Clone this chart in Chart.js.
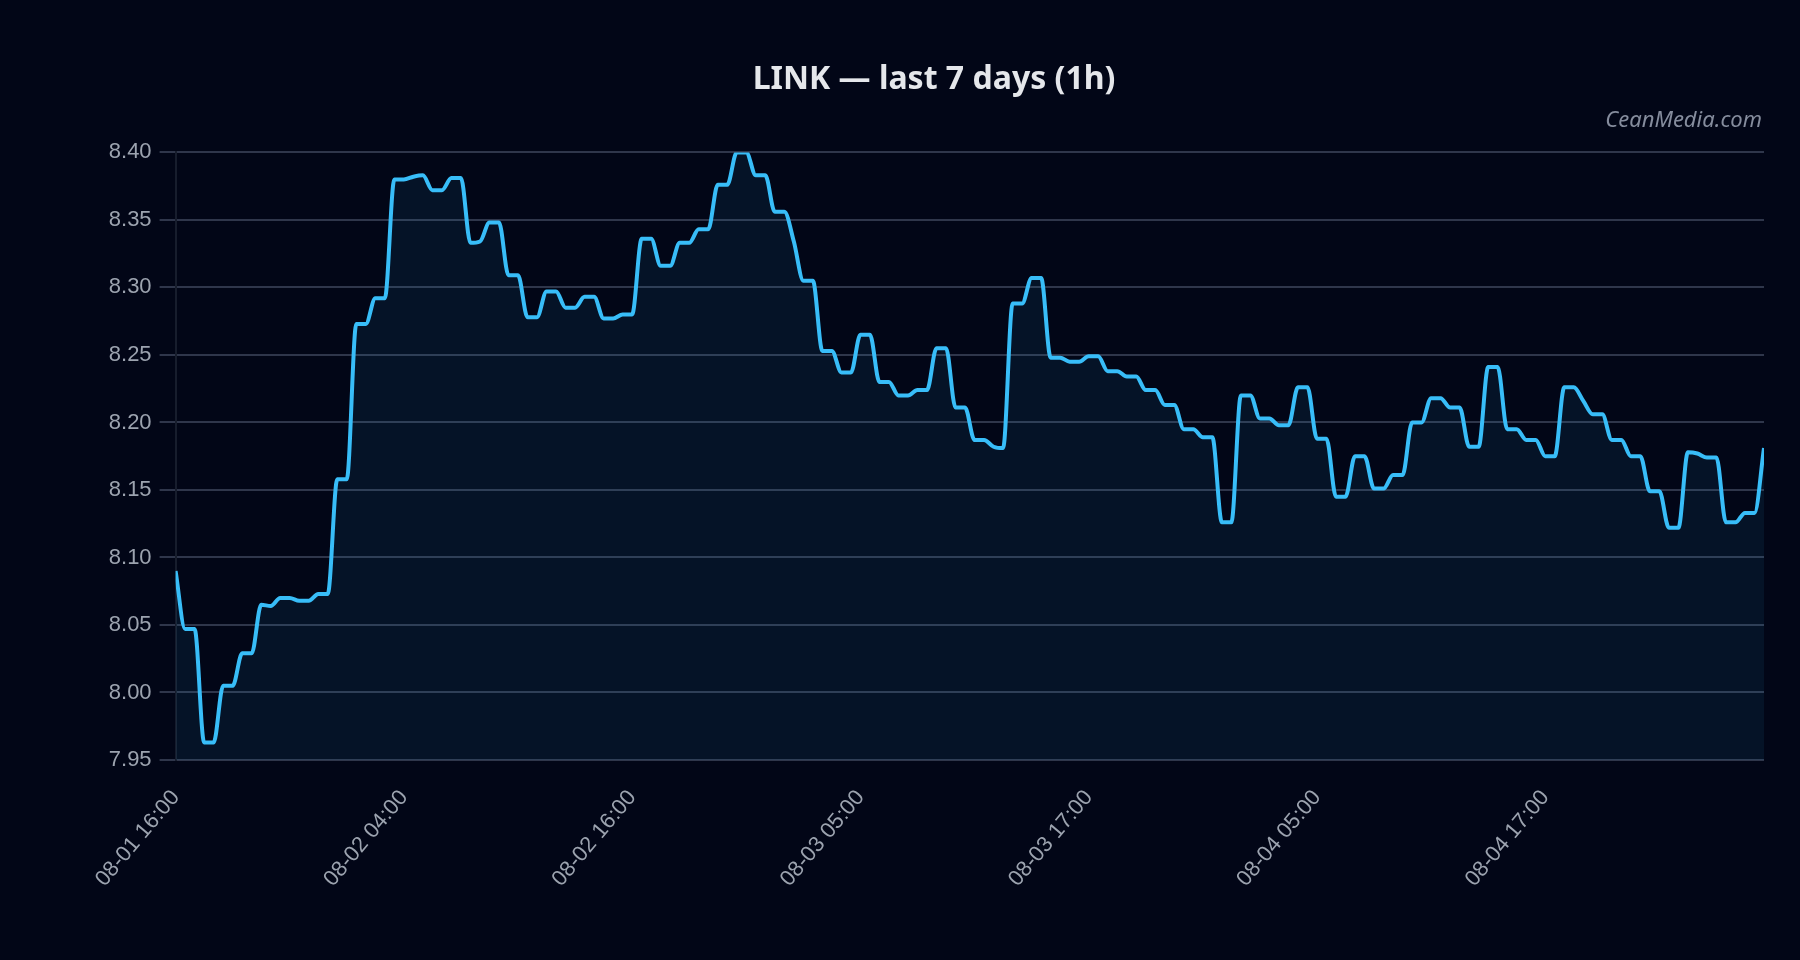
<!DOCTYPE html>
<html>
<head>
<meta charset="utf-8">
<script src="https://cdn.jsdelivr.net/npm/chart.js@4.4.1/dist/chart.umd.min.js"></script>
<style>
  html, body { margin: 0; padding: 0; background: #020617; }
  #wrap { width: 1800px; height: 960px; }
</style>
</head>
<body>
<div id="wrap"><canvas id="c" width="1800" height="960"></canvas></div>
<script>
// ---- data (half-hourly price points) ----
const chartTitle = 'LINK — last 7 days (1h)';
const watermark = 'CeanMedia.com';
const xTickIndex = [0, 24, 48, 72, 96, 120, 144];
const xTickLabels = ['08-01 16:00', '08-02 04:00', '08-02 16:00', '08-03 05:00', '08-03 17:00', '08-04 05:00', '08-04 17:00'];
const yTicks = [7.95, 8.00, 8.05, 8.10, 8.15, 8.20, 8.25, 8.30, 8.35, 8.40];
const prices = [
  8.090, 8.047, 8.047, 7.963, 7.963, 8.005, 8.005, 8.029, 8.029, 8.065,
  8.064, 8.070, 8.070, 8.068, 8.068, 8.073, 8.073, 8.158, 8.158, 8.273,
  8.273, 8.292, 8.292, 8.380, 8.380, 8.382, 8.383, 8.372, 8.372, 8.381,
  8.381, 8.333, 8.334, 8.348, 8.348, 8.309, 8.309, 8.278, 8.278, 8.297,
  8.297, 8.285, 8.285, 8.293, 8.293, 8.277, 8.277, 8.280, 8.280, 8.336,
  8.336, 8.316, 8.316, 8.333, 8.333, 8.343, 8.343, 8.376, 8.376, 8.400,
  8.400, 8.383, 8.383, 8.356, 8.356, 8.334, 8.305, 8.305, 8.253, 8.253,
  8.237, 8.237, 8.265, 8.265, 8.230, 8.230, 8.220, 8.220, 8.224, 8.224,
  8.255, 8.255, 8.211, 8.211, 8.187, 8.187, 8.182, 8.181, 8.288, 8.288,
  8.307, 8.307, 8.248, 8.248, 8.245, 8.245, 8.249, 8.249, 8.238, 8.238,
  8.234, 8.234, 8.224, 8.224, 8.213, 8.213, 8.195, 8.195, 8.189, 8.189,
  8.126, 8.126, 8.220, 8.220, 8.203, 8.203, 8.198, 8.198, 8.226, 8.226,
  8.188, 8.188, 8.145, 8.145, 8.175, 8.175, 8.151, 8.151, 8.161, 8.161,
  8.200, 8.200, 8.218, 8.218, 8.211, 8.211, 8.182, 8.182, 8.241, 8.241,
  8.195, 8.195, 8.187, 8.187, 8.175, 8.175, 8.226, 8.226, 8.216, 8.206,
  8.206, 8.187, 8.187, 8.175, 8.175, 8.149, 8.149, 8.122, 8.122, 8.178,
  8.177, 8.174, 8.174, 8.126, 8.126, 8.133, 8.133, 8.181
];

const points = prices.map((v, i) => ({ x: i, y: v }));

const bgPlugin = {
  id: 'bg',
  beforeDraw(chart) {
    const ctx = chart.ctx;
    ctx.save();
    ctx.fillStyle = '#020617';
    ctx.fillRect(0, 0, chart.width, chart.height);
    ctx.restore();
  }
};

const watermarkPlugin = {
  id: 'watermark',
  afterDraw(chart) {
    const ctx = chart.ctx;
    const a = chart.chartArea;
    ctx.save();
    ctx.font = 'italic 22px "Noto Sans", "Open Sans", sans-serif';
    ctx.fillStyle = 'rgba(148,155,172,0.9)';
    ctx.textAlign = 'right';
    ctx.textBaseline = 'alphabetic';
    ctx.fillText(watermark, a.right - 2, a.top - 25.5);
    ctx.restore();
  }
};

new Chart(document.getElementById('c'), {
  type: 'line',
  data: {
    datasets: [{
      data: points,
      borderColor: '#38bdf8',
      borderWidth: 4,
      backgroundColor: 'rgba(56,189,248,0.075)',
      fill: 'start',
      pointRadius: 0,
      cubicInterpolationMode: 'monotone'
    }]
  },
  options: {
    responsive: false,
    devicePixelRatio: 1,
    animation: false,
    layout: { padding: { left: 104, right: 36, top: 20, bottom: 0 } },
    plugins: {
      legend: { display: false },
      tooltip: { enabled: false },
      title: {
        display: true,
        text: chartTitle,
        color: '#e5e7eb',
        font: { family: '"Noto Sans", "Open Sans", sans-serif', size: 32, weight: 'bold' },
        padding: { top: 41, bottom: 53 }
      }
    },
    scales: {
      x: {
        type: 'linear',
        min: 0,
        max: prices.length - 1,
        grid: { display: false, drawTicks: false },
        border: { display: false },
        afterBuildTicks(scale) {
          scale.ticks = xTickIndex.map(v => ({ value: v }));
        },
        afterFit(scale) { scale.height = 200; },
        ticks: {
          autoSkip: false,
          minRotation: 50,
          maxRotation: 50,
          padding: 25,
          color: '#9ca3af',
          font: { family: '"Liberation Sans", Arial, sans-serif', size: 22 },
          callback(value) {
            const k = xTickIndex.indexOf(value);
            return k >= 0 ? xTickLabels[k] : '';
          }
        }
      },
      y: {
        min: yTicks[0],
        max: yTicks[yTicks.length - 1],
        afterBuildTicks(scale) {
          scale.ticks = yTicks.map(v => ({ value: v }));
        },
        afterFit(scale) { scale.width = 71.6; },
        grid: {
          color: 'rgba(120,135,160,0.38)',
          lineWidth: 2,
          tickLength: 16,
          drawTicks: true
        },
        border: { display: true, color: 'rgba(25,32,48,0.9)', width: 2 },
        ticks: {
          padding: 8,
          color: '#9ca3af',
          font: { family: '"Liberation Sans", Arial, sans-serif', size: 22 },
          callback(value) { return Number(value).toFixed(2); }
        }
      }
    }
  },
  plugins: [bgPlugin, watermarkPlugin]
});
</script>
</body>
</html>
